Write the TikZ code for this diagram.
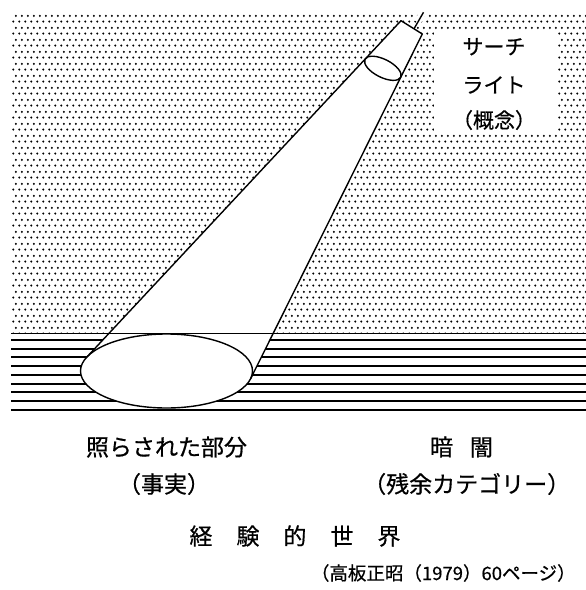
\documentclass[tikz,border=0pt]{standalone}
\usepackage{fontspec}
\newfontfamily\jp[FakeBold=0.6]{Noto Sans CJK JP}
\usetikzlibrary{patterns}

% halftone screen for the dark sky: staggered rows of small dots
\pgfdeclarepatternformonly{halftone}{\pgfpointorigin}{\pgfpoint{6pt}{11.6pt}}{\pgfpoint{6pt}{11.6pt}}{%
  \pgfpathcircle{\pgfpoint{1.5pt}{1.5pt}}{1.25pt}%
  \pgfpathcircle{\pgfpoint{4.5pt}{7.3pt}}{1.25pt}%
  \pgfusepath{fill}}

\begin{document}
\begin{tikzpicture}[x=1pt,y=-1pt,
  outline/.style={line width=1.4pt, line join=round},
  rule/.style={line width=2pt},
  label/.style={font=\jp\fontsize{23}{27}\selectfont, inner sep=0pt},
  boxtext/.style={font=\jp\fontsize{21}{25}\selectfont, inner sep=0pt},
  citetext/.style={font=\jp\fontsize{18.5}{22}\selectfont, inner sep=0pt},
]
\useasboundingbox[fill=white] (0,0) rectangle (586,590);

% darkness above the ground
\fill[pattern=halftone] (11,14) rectangle (586,333);

% ground: horizontal rules
\foreach \k in {0,...,8}
  \draw[rule] (11,{340+8.7*\k}) -- (586,{340+8.7*\k});

% key points of the searchlight
\coordinate (lampL) at (401,20.7);
\coordinate (lampR) at (422.3,34);
\coordinate (spotC) at (166.5,371);
\coordinate (tanL) at (86.7,357.2);
\coordinate (tanR) at (250.6,378.75);
\coordinate (lensC) at (382.85,68.3);
\coordinate (gripA) at (414,28.8);
\coordinate (gripB) at (423.5,12.3);

% clear space around the grip
\draw[white, line width=7pt] (417.5,22) -- (424,11);

% beam of light
\fill[white] (lampL) -- (lampR) -- (tanR) -- (tanL) -- cycle;
\draw[line width=1pt] (11,333.5) -- (586,333.5);
\draw[outline, fill=white] (spotC) ellipse [x radius=86, y radius=37];
\draw[outline] (tanL) -- (lampL) -- (lampR) -- (tanR);
\draw[outline, rotate around={-26.76:(lensC)}] (lensC) ellipse [x radius=20, y radius=9];
\draw[outline] (gripA) -- (gripB);

% caption of the searchlight
\node[fill=white, minimum width=123pt, minimum height=104pt, inner sep=0pt] (caption) at (495.5,82) {};
\node[boxtext] (cap1) at (494,46.7) {サーチ};
\node[boxtext] (cap2) at (494,85) {ライト};
\node[boxtext] (cap3) at (494,120) {（概念）};

% labels below
\node[label] (lit) at (166.5,447) {照らされた部分};
\node[label] (fact) at (164,484) {（事実）};
\node[label] (dark) at (461.5,447) {暗\hspace{17pt}闇};
\node[label] (resid) at (466.7,484) {（残余カテゴリー）};
\node[label] (world) at (295,536) {経\hspace{24pt}験\hspace{24pt}的\hspace{24pt}世\hspace{24pt}界};
\node[citetext] (cite) at (443.3,573) {（高板正昭（1979）60ページ）};
\end{tikzpicture}
\end{document}
